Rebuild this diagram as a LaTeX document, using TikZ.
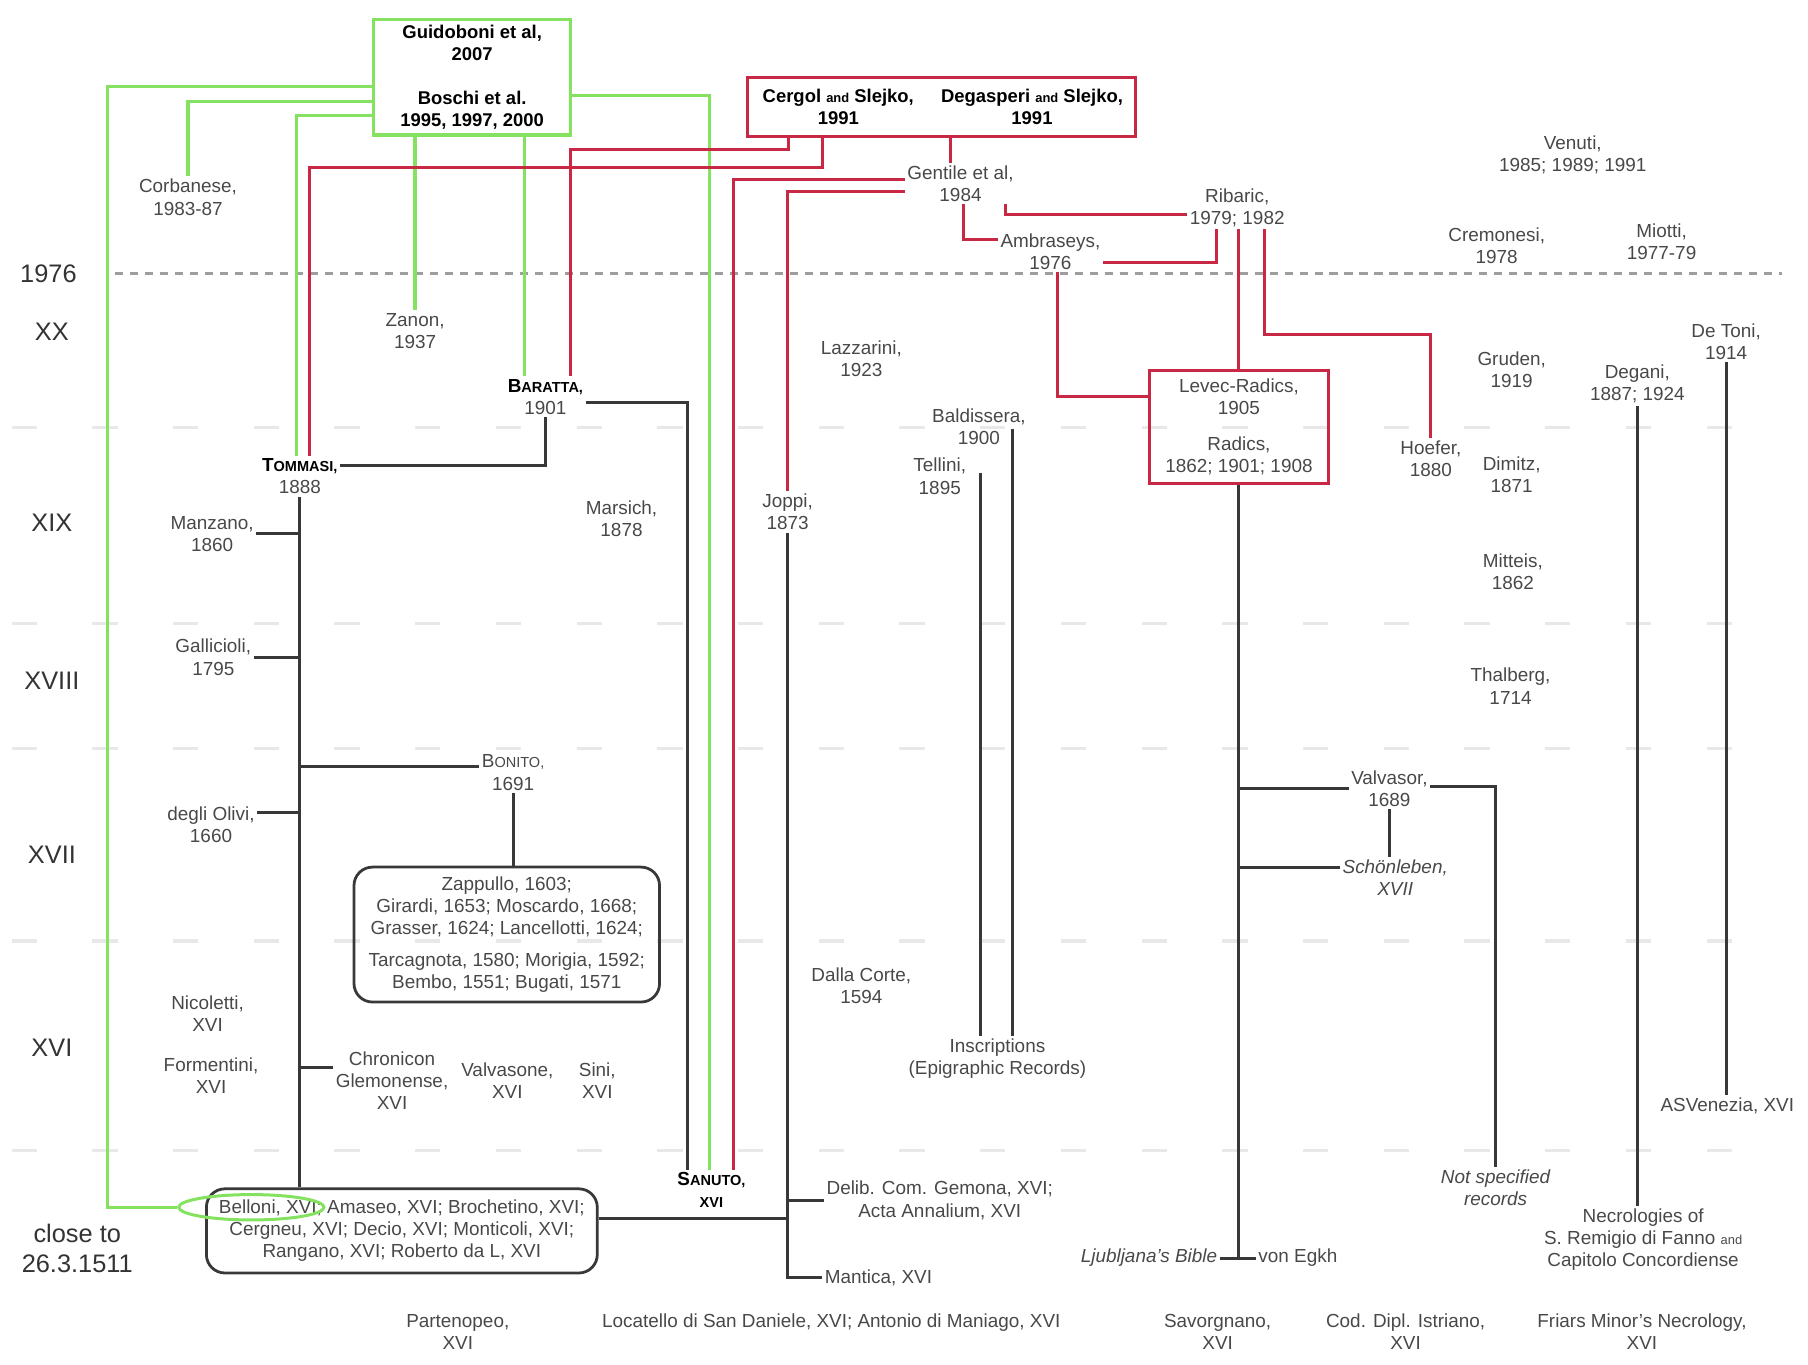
\documentclass[tikz,border=0pt]{standalone}
\usepackage{fontspec}
\setmainfont{Liberation Sans}
\usetikzlibrary{shapes.geometric}
\definecolor{grn}{RGB}{132,226,96}
\definecolor{crim}{RGB}{200,40,68}
\definecolor{ink}{RGB}{72,72,72}
\tikzset{
	gr/.style={draw=grn, line width=1.4pt},
	rd/.style={draw=crim, line width=1.3pt},
	bk/.style={draw=black!78, line width=1.3pt},
	lab/.style={align=center, text=ink, inner sep=1pt, font=\fontsize{8.2}{9.6}\selectfont},
	src/.style={align=center, inner sep=1pt, font=\bfseries\fontsize{8}{9.6}\selectfont},
	era/.style={text=black!80, font=\fontsize{11}{13}\selectfont, align=center},
	grid76/.style={draw=black!38, line width=1.3pt, dash pattern=on 3.5pt off 3pt},
	gridc/.style={draw=black!9, line width=1.4pt, dash pattern=on 11pt off 24pt},
	roundbox/.style={lab, draw=black!78, line width=1.2pt, rounded corners=8pt},
}
\newcommand{\fsc}[2]{#1{\fontsize{6.3}{7}\selectfont #2}}
\newcommand{\smand}{{\fontsize{5.6}{7}\selectfont and}}

\begin{document}
\begin{tikzpicture}[x=0.5pt, y=-0.5pt]
	\useasboundingbox (0,0) rectangle (1568,1183);

	% period lines
	\draw [grid76] (100,237) -- (1545,237);
	\foreach \y in {371,541,649,816,998}
		\draw [gridc] (10,\y) -- (1525,\y);

	\node [era] (e76) at (42,237) {1976};
	\node [era] (exx) at (45,288) {XX};
	\node [era] (exix) at (45,453) {XIX};
	\node [era] (exviii) at (45,590) {XVIII};
	\node [era] (exvii) at (45,741) {XVII};
	\node [era] (exvi) at (45,909) {XVI};
	\node [era] (eclose) at (67,1083) {close to\\26.3.1511};

	% catalogues
	\node [src, draw=grn, line width=1.4pt, outer sep=0pt, minimum width=85.5pt, minimum height=50pt] (guido) at (409.5,67)
		{Guidoboni et al,\\2007\\[9.5pt]Boschi et al.\\1995, 1997, 2000};
	\node [draw=crim, line width=1.3pt, outer sep=0pt, minimum width=168.5pt, minimum height=25.5pt] (slejko) at (816.5,92.5) {};
	\node [src] (cergol) at (727,93) {Cergol \smand\ Slejko,\\1991};
	\node [src] (degasp) at (895,93) {Degasperi \smand\ Slejko,\\1991};
	\node [lab, draw=crim, line width=1.3pt, minimum width=77.5pt, minimum height=49pt] (levec) at (1074.5,370)
		{Levec-Radics,\\1905\\[6pt]Radics,\\1862; 1901; 1908};
	\node [roundbox, minimum width=132.5pt, minimum height=58.5pt] (zappullo) at (439.5,810.5)
		{Zappullo, 1603;\\Girardi, 1653; Moscardo, 1668;\\Grasser, 1624; Lancellotti, 1624;\\[4pt]Tarcagnota, 1580; Morigia, 1592;\\Bembo, 1551; Bugati, 1571};
	\node [roundbox, minimum width=169.5pt, minimum height=36.5pt] (belloni) at (348.5,1067.5)
		{Belloni, XVI; Amaseo, XVI; Brochetino, XVI;\\Cergneu, XVI; Decio, XVI; Monticoli, XVI;\\Rangano, XVI; Roberto da L, XVI};
	\node [ellipse, draw=grn, line width=1.3pt, minimum width=63pt, minimum height=11pt] (bell) at (218,1047) {};

	% authors
	\node [lab] (corban) at (163,171) {Corbanese,\\1983-87};
	\node [lab] (zanon) at (360,287) {Zanon,\\1937};
	\node [lab] (baratta) at (473,344) {{\color{black}\bfseries\fsc{B}{ARATTA,}}\\1901};
	\node [lab] (tommasi) at (260,413) {{\color{black}\bfseries\fsc{T}{OMMASI,}}\\1888};
	\node [lab] (gentile) at (833,159) {Gentile et al,\\1984};
	\node [lab] (ribaric) at (1073,180) {Ribaric,\\1979; 1982};
	\node [lab] (ambras) at (911,218) {Ambraseys,\\1976};
	\node [lab] (venuti) at (1364,134) {Venuti,\\1985; 1989; 1991};
	\node [lab] (cremon) at (1298,213) {Cremonesi,\\1978};
	\node [lab] (miotti) at (1441,210) {Miotti,\\1977-79};
	\node [lab] (lazzar) at (747,311) {Lazzarini,\\1923};
	\node [lab] (gruden) at (1311,321) {Gruden,\\1919};
	\node [lab] (degani) at (1420,333) {Degani,\\1887; 1924};
	\node [lab] (detoni) at (1497,296) {De Toni,\\1914};
	\node [lab] (baldis) at (849,370) {Baldissera,\\1900};
	\node [lab] (tellini) at (815,413) {Tellini,\\1895};
	\node [lab] (hoefer) at (1241,398) {Hoefer,\\1880};
	\node [lab] (dimitz) at (1311,412) {Dimitz,\\1871};
	\node [lab] (joppi) at (683,444) {Joppi,\\1873};
	\node [lab] (marsich) at (539,450) {Marsich,\\1878};
	\node [lab] (manzano) at (184,463) {Manzano,\\1860};
	\node [lab] (mitteis) at (1312,496) {Mitteis,\\1862};
	\node [lab] (gallic) at (185,570) {Gallicioli,\\1795};
	\node [lab] (thalb) at (1310,595) {Thalberg,\\1714};
	\node [lab] (bonito) at (445,670) {\fsc{B}{ONITO,}\\1691};
	\node [lab] (valvas) at (1205,684) {Valvasor,\\1689};
	\node [lab] (olivi) at (183,715) {degli Olivi,\\1660};
	\node [lab] (schoen) at (1210,761) {\itshape Schönleben,\\\itshape XVII};
	\node [lab] (dalla) at (747,855) {Dalla Corte,\\1594};
	\node [lab] (nicol) at (180,879) {Nicoletti,\\XVI};
	\node [lab] (inscr) at (865,918) {Inscriptions\\(Epigraphic Records)};
	\node [lab] (forment) at (183,933) {Formentini,\\XVI};
	\node [lab] (chronicon) at (340,937) {Chronicon\\Glemonense,\\XVI};
	\node [lab] (valvasone) at (440,937) {Valvasone,\\XVI};
	\node [lab] (sini) at (518,937) {Sini,\\XVI};
	\node [lab] (asven) at (1498,959) {ASVenezia, XVI};
	\node [lab] (sanuto) at (617,1032) {{\color{black}\bfseries\fsc{S}{ANUTO,}}\\{\color{black}\bfseries\fsc{}{XVI}}};
	\node [lab] (notspec) at (1297,1030) {\itshape Not specified\\\itshape records};
	\node [lab] (delib) at (815,1041) {Delib. Com. Gemona, XVI;\\Acta Annalium, XVI};
	\node [lab] (necrol) at (1425,1075) {Necrologies of\\S. Remigio di Fanno \smand\\Capitolo Concordiense};
	\node [lab, anchor=east] (ljubl) at (1058,1091) {\itshape Ljubljana's Bible};
	\node [lab, anchor=west] (egkh) at (1089,1091) {von Egkh};
	\node [lab, anchor=west] (mantica) at (713,1108) {Mantica, XVI};
	\node [lab] (parten) at (397,1155) {Partenopeo,\\XVI};
	\node [lab] (locat) at (721,1147) {Locatello di San Daniele, XVI; Antonio di Maniago, XVI};
	\node [lab] (savorg) at (1056,1155) {Savorgnano,\\XVI};
	\node [lab] (coddipl) at (1219,1155) {Cod. Dipl. Istriano,\\XVI};
	\node [lab] (friars) at (1424,1155) {Friars Minor's Necrology,\\XVI};

	% Guidoboni / Boschi
	\draw [gr] (guido.west |- 0,75) -| (93,1047) -- (bell.west);
	\draw [gr] (guido.west |- 0,88) -| (corban.north);
	\draw [gr] (guido.west |- 0,100) -| ([xshift=-1.5pt]tommasi.north);
	\draw [gr] (zanon.north) |- (guido.south);
	\draw [gr] ([xshift=-9pt]baratta.north) |- (guido.south);
	\draw [gr] (guido.east |- 0,83) -| ([xshift=-1pt]sanuto.north);

	% Cergol / Degasperi
	\draw [rd] (slejko.south -| 684,0) |- (495,130) -- ([xshift=11pt]baratta.north);
	\draw [rd] (slejko.south -| 713,0) |- (268,145) -- ([xshift=4pt]tommasi.north);
	\draw [rd] (slejko.south -| 824,0) -- (gentile.north -| 824,0);
	\draw [rd] (gentile.west |- 0,156) -| ([xshift=9.5pt]sanuto.north);
	\draw [rd] (gentile.west |- 0,166) -| (joppi.north);
	\draw [rd] (gentile.south -| 836,0) |- ([yshift=5pt]ambras.west);
	\draw [rd] (gentile.south -| 872,0) |- ([yshift=-3pt]ribaric.west);
	\draw [rd] (ribaric.south -| 1055,0) |- ([yshift=-5pt]ambras.east);
	\draw [rd] (ribaric.south -| levec.north) -- (levec.north);
	\draw [rd] (ribaric.south -| 1097,0) |- (hoefer.north |- 0,290) -- (hoefer.north);
	\draw [rd] (ambras.south -| 917,0) |- ([yshift=13pt]levec.west);

	% older sources
	\draw [bk] (baratta.east |- 0,349) -| ([xshift=-10.5pt]sanuto.north);
	\draw [bk] (baratta.south) |- ([yshift=4.5pt]tommasi.east);
	\draw [bk] (tommasi.south) -- (tommasi.south |- belloni.north);
	\draw [bk] (manzano.east) -| (tommasi.south);
	\draw [bk] (gallic.east) -| (tommasi.south);
	\draw [bk] ([yshift=2.5pt]bonito.west) -| (tommasi.south);
	\draw [bk] ([yshift=5pt]olivi.east) -| (tommasi.south);
	\draw [bk] ([yshift=5.5pt]chronicon.west) -| (tommasi.south);
	\draw [bk] (bonito.south) -- (bonito.south |- zappullo.north);
	\draw [bk] ([yshift=5.5pt]belloni.east) -| (joppi.south);
	\draw [bk] (joppi.south) |- (mantica.west);
	\draw [bk] (delib.west) -| (joppi.south);
	\coordinate (tl) at (850,410);
	\coordinate (bl) at (878,372);
	\draw [bk] (tl) -- (tl |- inscr.north);
	\draw [bk] (bl) -- (bl |- inscr.north);
	\draw [bk] (levec.south) -- (levec.south |- ljubl.east);
	\draw [bk] (ljubl.east) -- (egkh.west);
	\draw [bk] (valvas.west) -| (levec.south);
	\draw [bk] ([yshift=4.5pt]schoen.west) -| (levec.south);
	\draw [bk] (valvas.south) -- (valvas.south |- schoen.north);
	\draw [bk] ([yshift=1pt]valvas.east) -| (notspec.north);
	\draw [bk] (degani.south) -- (degani.south |- necrol.north);
	\draw [bk] (detoni.south) -- (detoni.south |- asven.north);
\end{tikzpicture}
\end{document}
